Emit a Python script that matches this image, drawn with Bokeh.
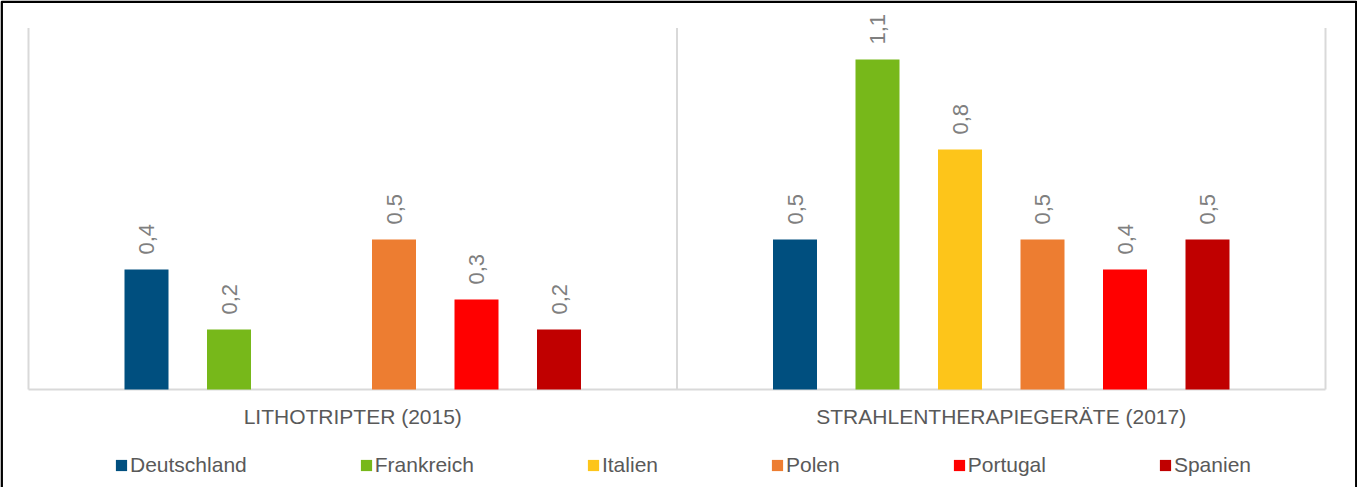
import math
from bokeh.plotting import figure
from bokeh.models import ColumnDataSource, Range1d, BoxAnnotation, Legend, LegendItem
from bokeh.core.properties import value
from bokeh.embed import file_html
from bokeh.resources import INLINE

# ---- data ----
groups = ["LITHOTRIPTER (2015)", "STRAHLENTHERAPIEGERÄTE (2017)"]
countries = ["Deutschland", "Frankreich", "Italien", "Polen", "Portugal", "Spanien"]
colors = ["#004f7f", "#77b81a", "#fdc51a", "#ed7d31", "#ff0000", "#c00000"]
lithotripter = [0.4, 0.2, None, 0.5, 0.3, 0.2]
strahlentherapie = [0.5, 1.1, 0.8, 0.5, 0.4, 0.5]
series = [lithotripter, strahlentherapie]
y_axis_max = 1.205

# ---- layout constants ----
W, H = 1357, 487
PX_X = 648.5          # pixels per category
PX_Y = 300.0          # pixels per value unit
step = 82.5 / PX_X    # spacing between bars within a category
bar_w = 44 / PX_X
FONT = value("Liberation Sans")

def fmt(v):
    return f"{v:.1f}".replace(".", ",")

x0, x1 = -28 / PX_X, len(groups) + 32 / PX_X
y0, y1 = -98 / PX_Y, 389 / PX_Y
p = figure(width=W, height=H, output_backend="svg", toolbar_location=None,
           x_range=Range1d(x0, x1), y_range=Range1d(y0, y1),
           x_axis_location=None, y_axis_location=None, min_border=0)
p.grid.visible = False
p.outline_line_color = None
p.background_fill_color = "white"
p.border_fill_color = "white"

# category separators and baseline
bounds = list(range(len(groups) + 1))
p.segment(x0=bounds, y0=[0] * len(bounds), x1=bounds, y1=[y_axis_max] * len(bounds),
          line_color="#d9d9d9", line_width=2)
p.segment(x0=[bounds[0]], y0=[0], x1=[bounds[-1]], y1=[0], line_color="#d9d9d9", line_width=2)

renderers = []
for i, c in enumerate(countries):
    xs, tops = [], []
    for g, vals in enumerate(series):
        if vals[i] is not None:
            xs.append(g + 0.5 + (i - (len(countries) - 1) / 2) * step)
            tops.append(vals[i])
    src = ColumnDataSource(dict(x=xs, top=tops, label=[fmt(v) for v in tops]))
    r = p.vbar(x="x", top="top", bottom=0, width=bar_w, source=src,
               fill_color=colors[i], line_color=None)
    p.text(x="x", y="top", text="label", source=src, angle=math.pi / 2,
           text_align="left", text_baseline="middle", y_offset=-15,
           text_font=FONT, text_font_size="22px", text_color="#7f7f7f")
    renderers.append(r)

# category labels
p.text(x=[g + 0.5 for g in range(len(groups))], y=[0] * len(groups), text=groups,
       text_align="center", text_baseline="middle", y_offset=27,
       text_font=FONT, text_font_size="21px", text_color="#595959")

# outer frame (extends below the visible area)
p.add_layout(BoxAnnotation(left=x0 + 1.2 / PX_X, right=x1 - 1.2 / PX_X,
                           top=y1 - 1.2 / PX_Y, bottom=y0 - 1,
                           fill_color=None, fill_alpha=0, line_color="black",
                           line_alpha=1, line_width=2.5, level="overlay"))

legend = Legend(items=[LegendItem(label=c, renderers=[r]) for c, r in zip(countries, renderers)],
                orientation="horizontal", location=(114, 10),
                glyph_width=14, glyph_height=14, label_standoff=2, spacing=112,
                padding=0, margin=0, border_line_color=None, background_fill_alpha=0,
                label_text_font="Liberation Sans", label_text_font_size="21px",
                label_text_color="#595959")
p.add_layout(legend)

open("out.html", "w").write(file_html(p, INLINE))
